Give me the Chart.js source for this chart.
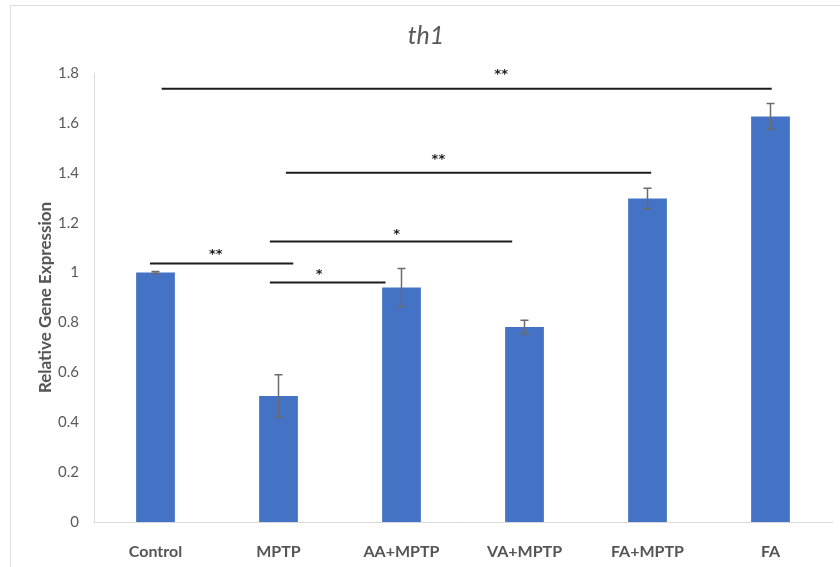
<!DOCTYPE html>
<html>
<head>
<meta charset="utf-8">
<script src="https://cdn.jsdelivr.net/npm/chart.js@4.4.1/dist/chart.umd.min.js"></script>
<style>
  html, body { margin: 0; padding: 0; background: #fff; }
  #frame { position: absolute; left: 10px; top: 5px; width: 900px; height: 600px;
           border-left: 1px solid #dedede; border-top: 1px solid #dedede; }
  #wrap { position: absolute; left: 0; top: 0; width: 840px; height: 567px; }
</style>
</head>
<body>
<div id="frame"></div>
<div id="wrap"><canvas id="geneChart"></canvas></div>
<script>
const groups = ['Control', 'MPTP', 'AA+MPTP', 'VA+MPTP', 'FA+MPTP', 'FA'];
const expression = [1.0, 0.505, 0.94, 0.782, 1.297, 1.626];
const errors = [0.004, 0.085, 0.076, 0.027, 0.041, 0.052];
const yTicks = [0, 0.2, 0.4, 0.6, 0.8, 1, 1.2, 1.4, 1.6, 1.8];

// significance brackets (x in category index units, y in data units)
const bracketFrom = [0.05, 1.06, 0.93, -0.045, 0.93];
const bracketTo = [5.01, 4.03, 2.90, 1.12, 1.87];
const bracketY = [1.737, 1.40, 1.125, 1.036, 0.96];
const starText = ['**', '**', '*', '**', '*'];
const starX = [2.81, 2.30, 1.96, 0.49, 1.33];
const starY = [1.808, 1.467, 1.166, 1.085, 1.005];

const fontFam = "Lato, 'Liberation Sans', sans-serif";

const errorBars = {
  id: 'errorBars',
  afterDatasetsDraw(chart) {
    const ctx = chart.ctx;
    const y = chart.scales.y;
    const meta = chart.getDatasetMeta(0);
    ctx.save();
    ctx.strokeStyle = '#6b6b6b';
    ctx.lineWidth = 1.5;
    meta.data.forEach((bar, i) => {
      const top = y.getPixelForValue(expression[i] + errors[i]);
      const bot = y.getPixelForValue(expression[i] - errors[i]);
      ctx.beginPath();
      ctx.moveTo(bar.x, top); ctx.lineTo(bar.x, bot);
      ctx.moveTo(bar.x - 4, top); ctx.lineTo(bar.x + 4, top);
      ctx.moveTo(bar.x - 4, bot); ctx.lineTo(bar.x + 4, bot);
      ctx.stroke();
    });
    ctx.restore();
  }
};

const brackets = {
  id: 'brackets',
  afterDraw(chart) {
    const ctx = chart.ctx;
    const x = chart.scales.x, y = chart.scales.y;
    const x0 = x.getPixelForValue(0);
    const step = x.getPixelForValue(1) - x0;
    ctx.save();
    ctx.strokeStyle = '#1c1c1c';
    ctx.lineWidth = 2;
    ctx.fillStyle = '#1c1c1c';
    ctx.font = "bold 13px 'DejaVu Sans', sans-serif";
    ctx.textAlign = 'center';
    ctx.textBaseline = 'alphabetic';
    for (let i = 0; i < bracketY.length; i++) {
      const py = y.getPixelForValue(bracketY[i]);
      ctx.beginPath();
      ctx.moveTo(x0 + bracketFrom[i] * step, py);
      ctx.lineTo(x0 + bracketTo[i] * step, py);
      ctx.stroke();
      ctx.fillText(starText[i], x0 + starX[i] * step, y.getPixelForValue(starY[i]) + 7);
    }
    ctx.restore();
  }
};

new Chart(document.getElementById('geneChart').getContext('2d'), {
  type: 'bar',
  data: {
    labels: groups,
    datasets: [{
      data: expression,
      backgroundColor: '#4472C4',
      borderWidth: 0,
      barPercentage: 0.315,
      categoryPercentage: 1
    }]
  },
  options: {
    responsive: true,
    maintainAspectRatio: false,
    animation: false,
    layout: { padding: { left: 20, right: 8, top: 0, bottom: 0 } },
    plugins: {
      legend: { display: false },
      tooltip: { enabled: false },
      title: {
        display: true,
        text: 'th1',
        color: '#595959',
        font: { family: fontFam, size: 25, style: 'italic', weight: 'normal' },
        padding: { top: 21, bottom: 22 }
      }
    },
    scales: {
      x: {
        grid: { display: false },
        border: { display: true, color: '#d9d9d9', width: 1 },
        ticks: { color: '#555555', font: { family: fontFam, size: 16, weight: 'bold' }, padding: 12 },
        afterFit(scale) { scale.height = 45; }
      },
      y: {
        min: 0,
        max: 1.8,
        afterBuildTicks(scale) { scale.ticks = yTicks.map(v => ({ value: v })); },
        grid: { display: false, drawTicks: false },
        border: { display: true, color: '#d9d9d9', width: 1 },
        ticks: {
          color: '#595959',
          font: { family: fontFam, size: 15 },
          padding: 15,
          callback: v => String(v)
        },
        title: {
          display: true,
          text: 'Relative Gene Expression',
          color: '#555555',
          font: { family: fontFam, size: 17, weight: 'bold' },
          padding: { top: 15, bottom: 0 }
        },
        afterFit(scale) { scale.width = 74; }
      }
    }
  },
  plugins: [errorBars, brackets]
});
</script>
</body>
</html>
